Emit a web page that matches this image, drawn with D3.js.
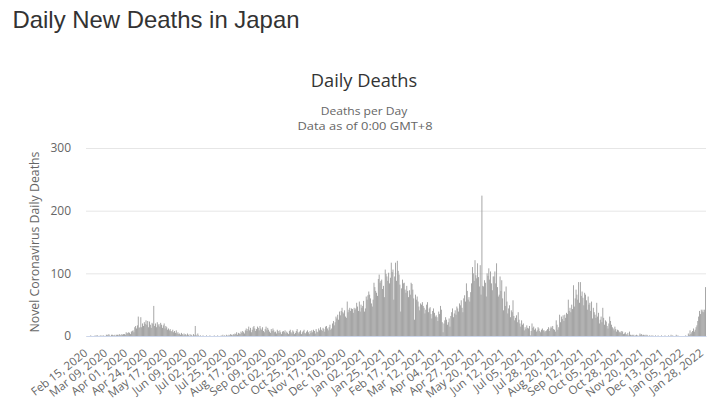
<!DOCTYPE html>
<html>
<head>
<meta charset="utf-8">
<script src="https://cdn.jsdelivr.net/npm/d3@7"></script>
<style>
  body { margin: 0; background: #fff; }
  text { font-family: "Open Sans", "DejaVu Sans", sans-serif; }
</style>
</head>
<body>
<div id="chart"></div>
<script>
// daily deaths, one row per month, first day is Feb 15, 2020
var deaths2020 = [
  0,0,0,0,0,1,0,0,0,0,1,0,1,1,0,
  0,1,0,1,0,1,0,0,2,2,1,3,1,0,2,2,1,1,2,0,2,2,1,3,2,1,3,2,3,3,2,
  6,4,5,6,5,3,7,8,9,6,14,16,12,17,31,13,14,30,14,20,16,22,19,25,18,24,14,23,18,13,
  21,19,48,16,20,14,22,17,19,15,21,18,13,17,20,12,16,14,10,12,9,11,8,7,10,6,8,5,9,4,6,
  3,4,2,5,3,1,4,2,3,1,4,2,0,3,1,2,0,3,1,16,2,0,4,1,0,1,0,0,1,0,
  0,0,1,0,0,0,1,0,0,0,0,1,0,0,0,1,0,0,0,1,0,2,0,1,0,2,1,0,2,1,3,
  2,1,3,2,4,3,6,2,5,4,3,7,5,8,6,4,9,12,8,11,15,9,13,6,10,14,16,12,8,11,15,
  13,9,16,12,10,14,8,6,11,15,9,13,10,7,5,11,8,12,9,6,7,4,10,8,5,9,6,3,7,8,
  6,9,4,7,5,3,8,10,6,4,9,7,3,5,8,11,6,4,7,9,3,6,8,10,5,4,7,9,6,3,8,
  5,9,6,10,8,4,11,7,6,12,9,14,10,8,13,11,7,15,16,12,9,14,18,10,12,20,24,17,22,31,
  28,34,26,39,33,40,45,38,36,41,31,29,55,38,42,45,40,44,43,37,45,42,44,53,47,40,55,39,50,45,48
];
var deaths2021 = [
  56,39,44,63,58,65,71,66,60,52,47,58,85,78,72,69,64,91,98,85,88,90,75,80,62,106,99,95,88,101,84,
  93,117,102,106,58,95,117,88,120,104,98,82,39,76,90,84,85,74,69,80,72,62,73,66,85,83,74,60,
  26,66,58,63,55,47,41,52,50,54,48,45,36,42,50,54,38,44,46,35,28,40,44,37,31,33,30,24,39,35,48,
  42,22,6,20,25,30,26,18,22,28,15,32,38,44,30,36,41,34,47,44,39,52,49,57,45,38,60,65,55,84,
  72,58,62,55,70,84,110,100,88,121,97,92,116,94,79,113,66,224,80,79,89,85,63,100,96,108,90,103,84,73,95,
  95,103,84,116,78,63,66,95,72,89,60,41,71,48,79,55,36,44,49,30,41,38,57,32,25,29,33,22,38,26,
  20,15,25,18,20,9,14,11,17,13,12,16,1,8,20,13,15,10,12,7,9,14,12,8,6,10,12,9,9,6,8,
  9,11,14,8,12,15,13,16,11,10,7,25,18,10,14,34,22,31,27,33,24,34,29,37,35,58,40,45,38,50,43,
  81,47,60,74,66,58,86,53,86,64,71,61,49,69,66,57,42,63,50,53,40,55,28,45,38,34,29,53,31,37,
  20,26,31,22,45,29,18,25,23,16,12,20,31,24,18,14,12,9,15,11,7,10,9,6,7,5,8,7,3,4,6,
  3,2,5,1,7,2,1,2,1,2,0,1,2,1,0,1,4,2,3,1,2,1,2,0,2,1,0,1,0,1,
  0,1,0,0,1,0,0,1,0,0,0,1,0,0,0,1,0,0,0,1,0,0,2,0,1,0,0,0,2,0,1
];
var deaths2022 = [
  0,0,0,0,0,0,0,0,1,0,0,4,2,9,3,6,8,12,7,10,14,17,24,31,40,35,42,39,42,38,42,
  78
];
var tickLabels = ["Feb 15, 2020","Mar 09, 2020","Apr 01, 2020","Apr 24, 2020","May 17, 2020",
  "Jun 09, 2020","Jul 02, 2020","Jul 25, 2020","Aug 17, 2020","Sep 09, 2020","Oct 02, 2020",
  "Oct 25, 2020","Nov 17, 2020","Dec 10, 2020","Jan 02, 2021","Jan 25, 2021","Feb 17, 2021",
  "Mar 12, 2021","Apr 04, 2021","Apr 27, 2021","May 20, 2021","Jun 12, 2021","Jul 05, 2021",
  "Jul 28, 2021","Aug 20, 2021","Sep 12, 2021","Oct 05, 2021","Oct 28, 2021","Nov 20, 2021",
  "Dec 13, 2021","Jan 05, 2022","Jan 28, 2022"];
var yTicks = [0, 100, 200, 300];

var values = deaths2020.concat(deaths2021, deaths2022);
var firstDay = new Date(2020, 1, 15);
var fmt = d3.timeFormat("%b %d, %Y");
var categories = values.map(function(v, i){ return fmt(d3.timeDay.offset(firstDay, i)); });

var svg = d3.select("#chart").append("svg")
  .attr("width", 722)
  .attr("height", 417);

svg.append("rect").attr("width", 722).attr("height", 417).attr("fill", "#fff");

// page heading and chart titles
svg.append("text")
  .attr("x", 12.5).attr("y", 28.3)
  .attr("textLength", 287).attr("lengthAdjust", "spacingAndGlyphs")
  .style("font-family", "'Liberation Sans', Arial, sans-serif")
  .style("font-size", "24px")
  .attr("fill", "#333")
  .text("Daily New Deaths in Japan");

svg.append("text")
  .attr("x", 364).attr("y", 87)
  .attr("text-anchor", "middle")
  .attr("textLength", 106.5).attr("lengthAdjust", "spacingAndGlyphs")
  .style("font-size", "18px")
  .attr("fill", "#333")
  .text("Daily Deaths");

svg.append("text")
  .attr("x", 364).attr("y", 115.3)
  .attr("text-anchor", "middle")
  .attr("textLength", 86.5).attr("lengthAdjust", "spacingAndGlyphs")
  .style("font-size", "11px")
  .attr("fill", "#666")
  .text("Deaths per Day");

svg.append("text")
  .attr("x", 365).attr("y", 129.7)
  .attr("text-anchor", "middle")
  .attr("textLength", 135).attr("lengthAdjust", "spacingAndGlyphs")
  .style("font-size", "11px")
  .attr("fill", "#666")
  .text("Data as of 0:00 GMT+8");

var x = d3.scaleBand().domain(categories).range([86, 706]).padding(0);
var y = d3.scaleLinear().domain([0, 300]).range([336, 148]);

// y axis with grid lines
var yAxis = svg.append("g")
  .attr("transform", "translate(86,0)")
  .call(d3.axisLeft(y).tickValues(yTicks).tickSize(-620).tickPadding(15));
yAxis.select(".domain").remove();
yAxis.selectAll("line").attr("stroke", "#e6e6e6");
yAxis.selectAll("text")
  .attr("fill", "#666")
  .style("font-size", "12px")
  .style("font-family", "'Open Sans', sans-serif");

svg.append("text")
  .attr("transform", "translate(38.5,242) rotate(-90)")
  .attr("text-anchor", "middle")
  .attr("textLength", 181).attr("lengthAdjust", "spacingAndGlyphs")
  .style("font-size", "12px")
  .attr("fill", "#666")
  .text("Novel Coronavirus Daily Deaths");

// bars
svg.append("g").selectAll("rect")
  .data(values)
  .join("rect")
  .attr("x", function(d, i){ return x(categories[i]); })
  .attr("width", x.bandwidth())
  .attr("y", function(d){ return y(d); })
  .attr("height", function(d){ return y(0) - y(d); })
  .attr("fill", "#999");

// x axis line, labels every 23 days
var xAxis = svg.append("g")
  .attr("transform", "translate(0,336)")
  .call(d3.axisBottom(x).tickValues([]).tickSizeOuter(0));
xAxis.select(".domain").attr("stroke", "#ccd6eb");

var half = x.bandwidth() / 2;
svg.append("g").selectAll("text")
  .data(tickLabels)
  .join("text")
  .attr("transform", function(d){
    return "translate(" + (x(d) + half + 2) + ",354.5) rotate(-38)";
  })
  .attr("text-anchor", "end")
  .attr("fill", "#666")
  .style("font-size", "11.5px")
  .text(function(d){ return d; });
</script>
</body>
</html>
